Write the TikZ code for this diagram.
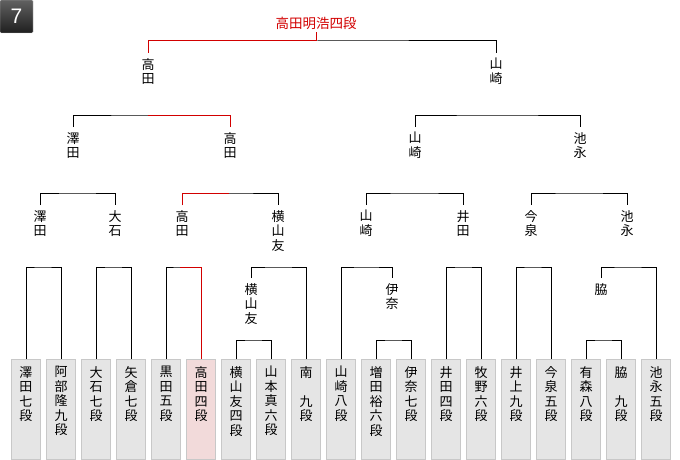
\documentclass[tikz,border=0pt]{standalone}
\usepackage{fontspec}
\usepackage{xcolor}
\usepackage{tikz}
\usetikzlibrary{positioning}
\newfontfamily\jp{Noto Sans CJK JP}
\newfontfamily\numfont{Liberation Sans}
\definecolor{winred}{RGB}{210,0,0}
\definecolor{boxfill}{RGB}{229,229,229}
\definecolor{boxline}{RGB}{200,200,200}
\definecolor{boxpink}{RGB}{242,218,218}
\newcommand{\tate}[1]{\parbox[t][86pt][t]{29pt}{\centering #1}}

\begin{document}
\begin{tikzpicture}[x=1pt, y=-1pt,
    entrant/.style={rectangle, draw=boxline, fill=boxfill, minimum width=29pt, minimum height=100pt, inner sep=0pt, anchor=north, font={\jp\fontsize{13}{14.5}\selectfont}},
    champbox/.style={entrant, fill=boxpink},
    player/.style={anchor=north, align=center, inner xsep=0pt, inner ysep=5pt, font={\jp\fontsize{13}{14.5}\selectfont}},
    badge/.style={rectangle, minimum size=33pt, rounded corners=1pt, top color=black!62, bottom color=black!88, draw=black!20, text=white, font={\numfont\fontsize{21}{21}\selectfont}},
    bracket/.style={line width=1pt},
    won/.style={line width=1pt, draw=winred}
]
\useasboundingbox (0,0) rectangle (680,460);

% Round badge and winner
\node[badge] (round) at (16.5,16.5) {7};
\node[font={\jp\fontsize{13.5}{14}\selectfont}, text=winred, inner sep=3pt] (champ) at (316,23) {高田明浩四段};

% Entrants
\node[entrant] (b0) at (26,359) {\tate{澤\\田\\七\\段}};
\node[entrant] (b1) at (61,359) {\tate{阿\\部\\隆\\九\\段}};
\node[entrant] (b2) at (96,359) {\tate{大\\石\\七\\段}};
\node[entrant] (b3) at (131,359) {\tate{矢\\倉\\七\\段}};
\node[entrant] (b4) at (166,359) {\tate{黒\\田\\五\\段}};
\node[champbox] (b5) at (201,359) {\tate{高\\田\\四\\段}};
\node[entrant] (b6) at (236,359) {\tate{横\\山\\友\\四\\段}};
\node[entrant] (b7) at (271,359) {\tate{山\\本\\真\\六\\段}};
\node[entrant] (b8) at (306,359) {\tate{南\\\mbox{}\\九\\段}};
\node[entrant] (b9) at (341,359) {\tate{山\\崎\\八\\段}};
\node[entrant] (b10) at (376,359) {\tate{増\\田\\裕\\六\\段}};
\node[entrant] (b11) at (411,359) {\tate{伊\\奈\\七\\段}};
\node[entrant] (b12) at (446,359) {\tate{井\\田\\四\\段}};
\node[entrant] (b13) at (481,359) {\tate{牧\\野\\六\\段}};
\node[entrant] (b14) at (516,359) {\tate{井\\上\\九\\段}};
\node[entrant] (b15) at (551,359) {\tate{今\\泉\\五\\段}};
\node[entrant] (b16) at (586,359) {\tate{有\\森\\八\\段}};
\node[entrant] (b17) at (621,359) {\tate{脇\\\mbox{}\\九\\段}};
\node[entrant] (b18) at (656,359) {\tate{池\\永\\五\\段}};

% Winners of the preliminary games
\node[player] (p1) at (251,278) {横\\山\\友};
\node[player] (p2) at (392,278) {伊\\奈};
\node[player] (p3) at (601,278) {脇};

% Winners of round 1
\node[player] (q1) at (40,205) {澤\\田};
\node[player] (q2) at (115,205) {大\\石};
\node[player] (q3) at (182,205) {高\\田};
\node[player] (q4) at (278,205) {横\\山\\友};
\node[player] (q5) at (366,205) {山\\崎};
\node[player] (q6) at (463,205) {井\\田};
\node[player] (q7) at (531,205) {今\\泉};
\node[player] (q8) at (627,205) {池\\永};

% Winners of round 2
\node[player] (s1) at (73,127) {澤\\田};
\node[player] (s2) at (230,127) {高\\田};
\node[player] (s3) at (415,127) {山\\崎};
\node[player] (s4) at (580,127) {池\\永};

% Finalists
\node[player] (f1) at (148,53) {高\\田};
\node[player] (f2) at (496,53) {山\\崎};

% Bracket corners
\coordinate (c67) at (253,340);
\coordinate (c1011) at (393,340);
\coordinate (c1617) at (603,340);
\coordinate (c01) at (42,267);
\coordinate (c23) at (113,267);
\coordinate (c45) at (180,267);
\coordinate (cp1) at (278,267);
\coordinate (cp2) at (366,267);
\coordinate (c1213) at (463,267);
\coordinate (c1415) at (532,267);
\coordinate (cp3) at (627,267);
\coordinate (cq12) at (77,193);
\coordinate (cq34) at (229,193);
\coordinate (cq56) at (414,193);
\coordinate (cq78) at (579,193);
\coordinate (cs12) at (148,115);
\coordinate (cs34) at (497,115);
\coordinate (cf) at (316,41);

% Preliminary games
\draw[bracket] (b6.north) |- (c67) -| (b7.north);
\draw[bracket] (b10.north) |- (c1011) -| (b11.north);
\draw[bracket] (b16.north) |- (c1617) -| (b17.north);

% Round 1
\draw[bracket] (b0.north) |- (c01) -| (b1.north);
\draw[bracket] (b2.north) |- (c23) -| (b3.north);
\draw[bracket] (b4.north) |- (c45) -| (b5.north);
\draw[bracket] (p1.north) |- (cp1) -| (b8.north);
\draw[bracket] (b9.north) |- (cp2) -| (p2.north);
\draw[bracket] (b12.north) |- (c1213) -| (b13.north);
\draw[bracket] (b14.north) |- (c1415) -| (b15.north);
\draw[bracket] (p3.north) |- (cp3) -| (b18.north);

% Round 2
\draw[bracket] (q1.north) |- (cq12) -| (q2.north);
\draw[bracket] (q3.north) |- (cq34) -| (q4.north);
\draw[bracket] (q5.north) |- (cq56) -| (q6.north);
\draw[bracket] (q7.north) |- (cq78) -| (q8.north);

% Round 3
\draw[bracket] (s1.north) |- (cs12) -| (s2.north);
\draw[bracket] (s3.north) |- (cs34) -| (s4.north);

% Final
\draw[bracket] (f1.north) |- (cf) -| (f2.north);

% Path of the winner
\draw[won] (b5.north) |- (c45);
\draw[won] (q3.north) |- (cq34);
\draw[won] (s2.north) |- (cs12);
\draw[won] (f1.north) |- (cf) -- (champ);

\end{tikzpicture}
\end{document}
